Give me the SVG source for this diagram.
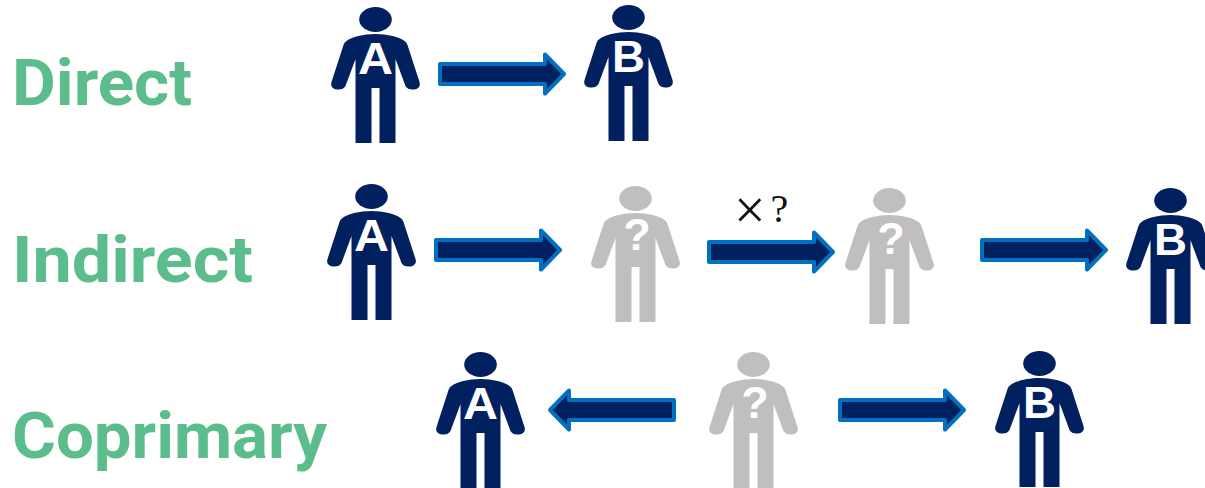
<svg xmlns="http://www.w3.org/2000/svg" xmlns:xlink="http://www.w3.org/1999/xlink" width="1205" height="488" viewBox="0 0 1205 488">
<style>
.lbl{font-family:Roboto,"Liberation Sans",sans-serif;font-weight:700;font-size:65px;fill:#5bbd8b}
.ltr{font-family:"Liberation Sans",Arial,sans-serif;font-weight:700;font-size:45px;fill:#fff;text-anchor:middle}
.dark{fill:#002060}
.grey{fill:#c0bebf}
.arr{fill:#002060;stroke:#0070c0;stroke-width:4;stroke-linejoin:round}
.math{font-family:"Liberation Serif","Times New Roman",serif;font-size:40px;fill:#111}
</style>
<defs>
<g id="person">
<ellipse cx="0" cy="12.5" rx="16.3" ry="12.5"/>
<path d="M0 27C-12 27-24 30-29 34Q-31 35-32 38L-44 75Q-45.500 80-41 82Q-33 84-30 79L-20 52V136H-4V81H4V136H20V52L30 79Q33 84 41 82Q45.500 80 44 75L32 38Q31 35 29 34C24 30 12 27 0 27Z"/>
</g>
<path id="arrow" d="M0-10H105V-19.500L124 0 105 19.500V10H0Z"/>
</defs>
<text class="lbl" x="12" y="105" textLength="180" lengthAdjust="spacingAndGlyphs">Direct</text>
<text class="lbl" x="12" y="282" textLength="241" lengthAdjust="spacingAndGlyphs">Indirect</text>
<text class="lbl" x="12" y="458" textLength="315" lengthAdjust="spacingAndGlyphs">Coprimary</text>
<g id="connectors">
<use href="#arrow" class="arr" transform="translate(440,74)"/>
<use href="#arrow" class="arr" transform="translate(436,250)"/>
<use href="#arrow" class="arr" transform="translate(709,252)"/>
<use href="#arrow" class="arr" transform="translate(982,250)"/>
<use href="#arrow" class="arr" transform="translate(674,410) scale(-1,1)"/>
<use href="#arrow" class="arr" transform="translate(840,410)"/>
</g>
<text class="math" x="734" y="222"><tspan font-size="56" dy="7">×</tspan><tspan dy="-7" dx="5">?</tspan></text>
<g id="a1"><use href="#person" class="dark" x="375.500" y="7"/><text class="ltr" x="375.500" y="74" textLength="35" lengthAdjust="spacingAndGlyphs">A</text></g>
<g id="b1"><use href="#person" class="dark" x="628.500" y="5"/><text class="ltr" x="628.500" y="72" textLength="33" lengthAdjust="spacingAndGlyphs">B</text></g>
<g id="a2"><use href="#person" class="dark" x="371.500" y="184"/><text class="ltr" x="371.500" y="251" textLength="35" lengthAdjust="spacingAndGlyphs">A</text></g>
<g id="q1"><use href="#person" class="grey" x="635.500" y="186"/><text class="ltr" x="637" y="250">?</text></g>
<g id="q2"><use href="#person" class="grey" x="889.500" y="188"/><text class="ltr" x="891" y="254">?</text></g>
<g id="b2"><use href="#person" class="dark" x="1170.500" y="188"/><text class="ltr" x="1170.500" y="255" textLength="33" lengthAdjust="spacingAndGlyphs">B</text></g>
<g id="a3"><use href="#person" class="dark" x="480.500" y="352"/><text class="ltr" x="480.500" y="419" textLength="35" lengthAdjust="spacingAndGlyphs">A</text></g>
<g id="q3"><use href="#person" class="grey" x="753.500" y="352"/><text class="ltr" x="755" y="418">?</text></g>
<g id="b3"><use href="#person" class="dark" x="1039.500" y="351"/><text class="ltr" x="1039.500" y="418" textLength="33" lengthAdjust="spacingAndGlyphs">B</text></g>
</svg>
